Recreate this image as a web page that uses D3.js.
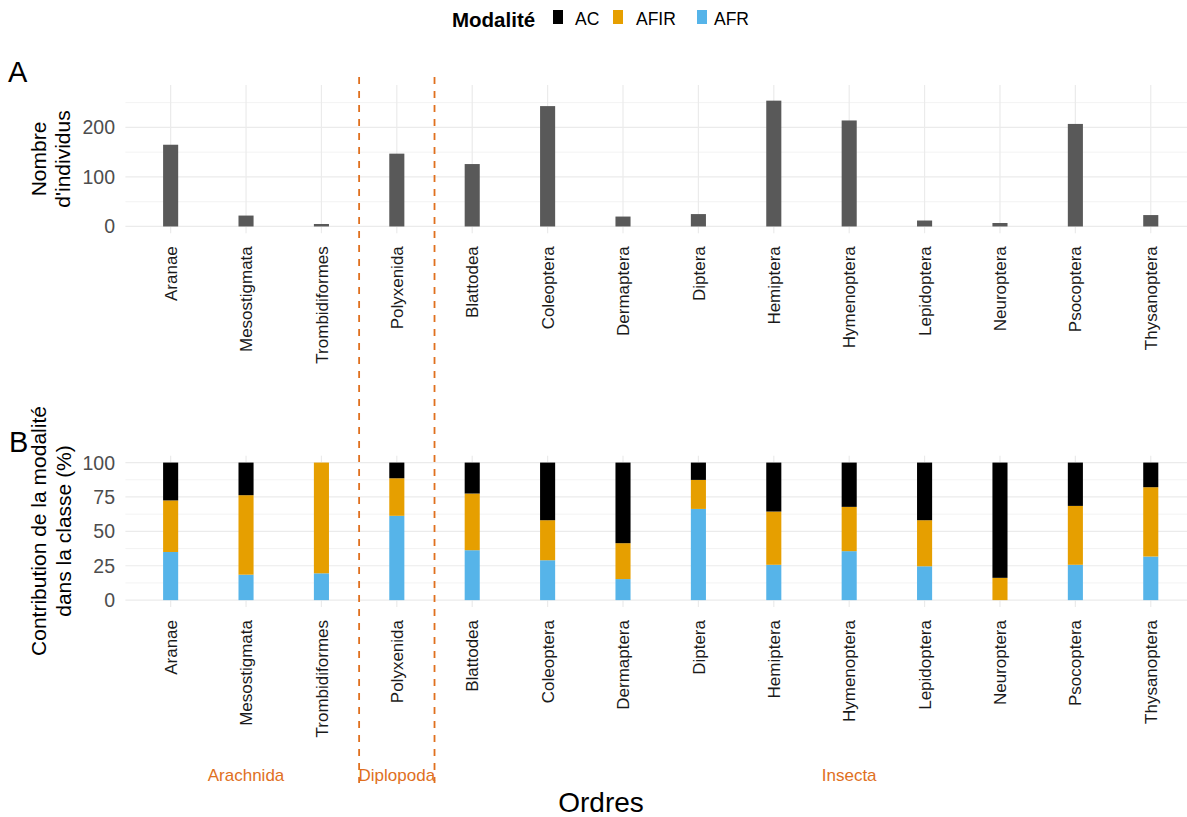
<!DOCTYPE html>
<html><head><meta charset="utf-8">
<script src="https://cdn.jsdelivr.net/npm/d3@7"></script>
<style>
body{margin:0;background:#fff;}
text{font-family:"Liberation Sans",Arial,sans-serif;}
</style></head>
<body>
<svg id="c" width="1187" height="817"></svg>
<script>
const categories = ["Aranae","Mesostigmata","Trombidiformes","Polyxenida","Blattodea","Coleoptera","Dermaptera","Diptera","Hemiptera","Hymenoptera","Lepidoptera","Neuroptera","Psocoptera","Thysanoptera"];
const counts = [165, 22, 5, 147, 126, 243, 20, 25, 254, 214, 12, 7, 207, 23];
const pctAFR  = [35.0, 18.5, 19.5, 61.3, 36.3, 29.0, 15.3, 66.3, 25.7, 35.6, 24.6, 0.0, 25.7, 31.7];
const pctAFIR = [37.5, 57.8, 80.5, 27.3, 41.2, 29.1, 26.1, 21.1, 38.7, 32.2, 33.5, 16.2, 42.8, 50.4];
const pctAC   = [27.5, 23.7, 0.0, 11.4, 22.5, 41.9, 58.6, 12.6, 35.6, 32.2, 41.9, 83.8, 31.5, 17.9];
const legendKeys = ["AC","AFIR","AFR"];
const stackKeys = ["AFR","AFIR","AC"];
const colors = {AC:"#000000", AFIR:"#E69F00", AFR:"#56B4E9"};
const ticksA = [0,100,200];
const minorA = [50,150,250];
const ticksB = [0,25,50,75,100];
const minorB = [12.5,37.5,62.5,87.5];
const classLabels = [{name:"Arachnida", at:"Mesostigmata"},{name:"Diplopoda", at:"Polyxenida"},{name:"Insecta", at:"Hymenoptera"}];
const classBreaks = [["Trombidiformes","Polyxenida"],["Polyxenida","Blattodea"]];
const yMaxA = 272;

const svg = d3.select("#c");
const orange = "#E0701E";
const x = d3.scalePoint().domain(categories).range([125.4, 1196]).padding(0.6);
const step = x.step();
const bw = step*0.2;

function panel(top, bottom, y, majors, minors){
  const g = svg.append("g");
  const left = 125.4, right = 1196;
  g.selectAll("line.mi").data(minors).enter().append("line")
    .attr("x1",left).attr("x2",right).attr("y1",d=>y(d)).attr("y2",d=>y(d))
    .attr("stroke","#EBEBEB").attr("stroke-width",0.6);
  g.selectAll("line.ma").data(majors).enter().append("line")
    .attr("x1",left).attr("x2",right).attr("y1",d=>y(d)).attr("y2",d=>y(d))
    .attr("stroke","#EBEBEB").attr("stroke-width",1.2);
  g.selectAll("line.v").data(categories).enter().append("line")
    .attr("x1",d=>x(d)).attr("x2",d=>x(d)).attr("y1",top).attr("y2",bottom)
    .attr("stroke","#EBEBEB").attr("stroke-width",1.2);
  g.selectAll("text.yt").data(majors).enter().append("text")
    .attr("x",115).attr("y",d=>y(d)).attr("dy","0.36em").attr("text-anchor","end")
    .attr("font-size",19.5).attr("fill","#4D4D4D").text(d=>d);
  g.selectAll("text.xt").data(categories).enter().append("text")
    .attr("transform",d=>`translate(${x(d)},${bottom+13}) rotate(-90)`)
    .attr("dy","0.36em").attr("text-anchor","end")
    .attr("font-size",17).attr("fill","#1A1A1A").text(d=>d);
  return g;
}

// Panel A
const yA = d3.scaleLinear().domain([-0.05*yMaxA, 1.05*yMaxA]).range([233.2, 85]);
const gA = panel(85, 233.2, yA, ticksA, minorA);
gA.selectAll("rect").data(categories).enter().append("rect")
  .attr("x",d=>x(d)-bw/2).attr("width",bw)
  .attr("y",(d,i)=>yA(counts[i])).attr("height",(d,i)=>yA(0)-yA(counts[i]))
  .attr("fill","#595959");

// Panel B
const yB = d3.scaleLinear().domain([-5,105]).range([607,455.7]);
const gB = panel(455.7, 607, yB, ticksB, minorB);
const rows = categories.map((c,i)=>({cat:c, AFR:pctAFR[i], AFIR:pctAFIR[i], AC:pctAC[i]}));
const series = d3.stack().keys(stackKeys)(rows);
gB.selectAll("g.s").data(series).enter().append("g").attr("fill",s=>colors[s.key])
  .selectAll("rect").data(s=>s).enter().append("rect")
  .attr("x",d=>x(d.data.cat)-bw/2).attr("width",bw)
  .attr("y",d=>yB(d[1])).attr("height",d=>Math.max(0,yB(d[0])-yB(d[1])));

// Axis titles
function rotTitle(cx, cy, lines, gap, size){
  const t = svg.append("text").attr("transform",`translate(${cx},${cy}) rotate(-90)`)
    .attr("text-anchor","middle").attr("font-size",size).attr("fill","#000");
  lines.forEach((l,i)=>t.append("tspan").attr("x",0).attr("y",(i-(lines.length-1)/2)*gap).attr("dy","0.36em").text(l));
}
rotTitle(50, 159, ["Nombre","d'individus"], 24, 21);
rotTitle(51, 531, ["Contribution de la modalité","dans la classe (%)"], 25, 21);

svg.append("text").attr("x",8).attr("y",82).attr("font-size",29).text("A");
svg.append("text").attr("x",9).attr("y",452).attr("font-size",29).text("B");
svg.append("text").attr("x",601).attr("y",812).attr("text-anchor","middle").attr("font-size",28).text("Ordres");

// Class separators and labels
svg.selectAll("line.sep").data(classBreaks).enter().append("line")
  .attr("x1",d=>(x(d[0])+x(d[1]))/2).attr("x2",d=>(x(d[0])+x(d[1]))/2)
  .attr("y1",77).attr("y2",783)
  .attr("stroke",orange).attr("stroke-width",1.8).attr("stroke-dasharray","7,7");
svg.selectAll("text.cl").data(classLabels).enter().append("text")
  .attr("x",d=>x(d.at)).attr("y",781).attr("text-anchor","middle")
  .attr("font-size",17).attr("fill",orange).text(d=>d.name);

// Legend
const lg = svg.append("g");
lg.append("text").attr("x",452).attr("y",26.5).attr("font-size",20.5).attr("font-weight","bold").text("Modalité");
const keyX = [553, 613, 697];
const labX = [575, 636, 714];
legendKeys.forEach((k,i)=>{
  lg.append("rect").attr("x",keyX[i]).attr("y",10).attr("width",10).attr("height",14).attr("fill",colors[k]);
  lg.append("text").attr("x",labX[i]).attr("y",25).attr("font-size",17.5).attr("fill","#000").text(k);
});
</script>
</body></html>
